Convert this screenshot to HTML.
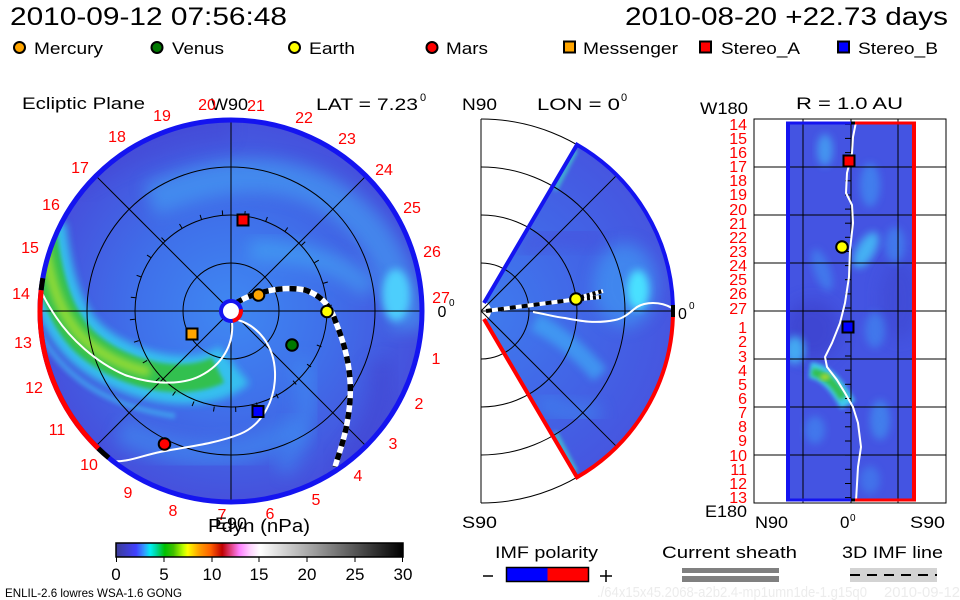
<!DOCTYPE html>
<html><head><meta charset="utf-8"><style>
html,body{margin:0;padding:0;background:#fff;width:960px;height:600px;overflow:hidden}
svg{display:block}
text{font-family:"Liberation Sans",sans-serif}
</style></head><body>
<svg width="960" height="600" viewBox="0 0 960 600" xmlns="http://www.w3.org/2000/svg">
<defs>
 <filter id="b2" x="-30%" y="-30%" width="160%" height="160%"><feGaussianBlur stdDeviation="2"/></filter>
 <filter id="b4" x="-30%" y="-30%" width="160%" height="160%"><feGaussianBlur stdDeviation="4"/></filter>
 <filter id="b8" x="-40%" y="-40%" width="180%" height="180%"><feGaussianBlur stdDeviation="8"/></filter>
 <clipPath id="disk"><circle cx="231" cy="311" r="190"/></clipPath>
 <clipPath id="wedge"><path d="M486 302.3 L577 144.7 A192 192 0 0 1 577 477.3 L486 319.7 A10 10 0 0 0 486 302.3 Z"/></clipPath>
 <clipPath id="rrect"><rect x="786" y="122" width="128" height="379"/></clipPath>
 <radialGradient id="rg" cx="231" cy="311" r="192" gradientUnits="userSpaceOnUse">
   <stop offset="0" stop-color="#3f88f2"/>
   <stop offset="0.5" stop-color="#3f70ea"/>
   <stop offset="1" stop-color="#4650dc"/>
 </radialGradient>
 <radialGradient id="rg2" cx="481" cy="311" r="192" gradientUnits="userSpaceOnUse">
   <stop offset="0" stop-color="#3f7cee"/>
   <stop offset="0.6" stop-color="#4264e6"/>
   <stop offset="1" stop-color="#4656e0"/>
 </radialGradient>
 <linearGradient id="cb" x1="0" x2="1" y1="0" y2="0">
   <stop offset="0" stop-color="#3c3c96"/>
   <stop offset="0.04" stop-color="#3f3fd0"/>
   <stop offset="0.07" stop-color="#4040ff"/>
   <stop offset="0.10" stop-color="#30a0ff"/>
   <stop offset="0.12" stop-color="#00f0f0"/>
   <stop offset="0.14" stop-color="#00d8a0"/>
   <stop offset="0.17" stop-color="#00c000"/>
   <stop offset="0.20" stop-color="#40c000"/>
   <stop offset="0.235" stop-color="#c0ff00"/>
   <stop offset="0.25" stop-color="#ffff00"/>
   <stop offset="0.29" stop-color="#ffa000"/>
   <stop offset="0.33" stop-color="#ff6000"/>
   <stop offset="0.37" stop-color="#c00000"/>
   <stop offset="0.40" stop-color="#e04080"/>
   <stop offset="0.43" stop-color="#ff80ff"/>
   <stop offset="0.47" stop-color="#ffd8ff"/>
   <stop offset="0.50" stop-color="#ffffff"/>
   <stop offset="1" stop-color="#000000"/>
 </linearGradient>
</defs>

<!-- Header -->
<text x="10" y="25" font-size="25" textLength="277" lengthAdjust="spacingAndGlyphs">2010-09-12 07:56:48</text>
<text x="625" y="25" font-size="25" textLength="323" lengthAdjust="spacingAndGlyphs">2010-08-20 +22.73 days</text>

<!-- Legend -->
<g stroke="#000" stroke-width="2">
 <circle cx="19.5" cy="47.5" r="5.5" fill="#ffa500"/>
 <circle cx="157" cy="47.5" r="5.5" fill="#007800"/>
 <circle cx="294.5" cy="47.5" r="5.5" fill="#ffff00"/>
 <circle cx="432" cy="47.5" r="5.5" fill="#ff0000"/>
 <rect x="564" y="41.5" width="11" height="11" fill="#ffa500"/>
 <rect x="700" y="41.5" width="11" height="11" fill="#ff0000"/>
 <rect x="838" y="41.5" width="11" height="11" fill="#0000ff"/>
</g>
<g font-size="17">
 <text x="34" y="54" textLength="69" lengthAdjust="spacingAndGlyphs">Mercury</text>
 <text x="172" y="54" textLength="52" lengthAdjust="spacingAndGlyphs">Venus</text>
 <text x="309" y="54" textLength="46" lengthAdjust="spacingAndGlyphs">Earth</text>
 <text x="446" y="54" textLength="42" lengthAdjust="spacingAndGlyphs">Mars</text>
 <text x="583" y="54" textLength="95" lengthAdjust="spacingAndGlyphs">Messenger</text>
 <text x="721" y="54" textLength="79" lengthAdjust="spacingAndGlyphs">Stereo_A</text>
 <text x="858" y="54" textLength="80" lengthAdjust="spacingAndGlyphs">Stereo_B</text>
</g>

<!-- Titles -->
<g font-size="17">
 <text x="22" y="109" textLength="123" lengthAdjust="spacingAndGlyphs">Ecliptic Plane</text>
 <text x="211" y="110" textLength="37" lengthAdjust="spacingAndGlyphs">W90</text>
 <text x="316" y="110" textLength="102" lengthAdjust="spacingAndGlyphs">LAT = 7.23</text>
 <text x="420" y="101" font-size="11">0</text>
 <text x="462" y="110" textLength="35" lengthAdjust="spacingAndGlyphs">N90</text>
 <text x="537" y="110" textLength="83" lengthAdjust="spacingAndGlyphs">LON = 0</text>
 <text x="621" y="101" font-size="11">0</text>
 <text x="700" y="114" textLength="48" lengthAdjust="spacingAndGlyphs">W180</text>
 <text x="796" y="109" textLength="107" lengthAdjust="spacingAndGlyphs">R = 1.0 AU</text>
</g>

<!-- ================= LEFT DISK ================= -->
<circle cx="231" cy="311" r="190" fill="url(#rg)"/>
<g clip-path="url(#disk)">
  <!-- lighter spiral arms -->
  <path d="M150 200 Q 290 140 370 230 Q 405 275 408 330" fill="none" stroke="#44aaf6" stroke-width="34" opacity="0.55" filter="url(#b8)"/>
  <path d="M250 250 Q 330 250 370 290" fill="none" stroke="#45b5f7" stroke-width="20" opacity="0.5" filter="url(#b8)"/>
  <ellipse cx="396" cy="295" rx="14" ry="26" fill="#50dcff" opacity="0.85" filter="url(#b4)"/>
  <path d="M120 430 Q 220 480 300 425" fill="none" stroke="#3f8cf0" stroke-width="26" opacity="0.6" filter="url(#b8)"/>
  <path d="M300 360 Q 320 420 280 470" fill="none" stroke="#3f90f2" stroke-width="22" opacity="0.5" filter="url(#b8)"/>
  <path d="M380 360 Q 390 420 340 470" fill="none" stroke="#4246d2" stroke-width="24" opacity="0.6" filter="url(#b8)"/>
  <path d="M70 180 Q 150 130 230 125" fill="none" stroke="#4448d4" stroke-width="30" opacity="0.5" filter="url(#b8)"/>
  <!-- green band -->
  <path d="M42 225 C48 280, 60 318, 85 342 C110 365, 150 380, 185 380 C205 380, 222 375, 234 365" fill="none" stroke="#34c8f0" stroke-width="48" opacity="0.9" filter="url(#b4)"/>
  <path d="M42 225 C48 280, 60 318, 85 342 C110 365, 150 380, 185 378 C200 377, 210 374, 218 370" fill="none" stroke="#30c050" stroke-width="28" filter="url(#b2)"/>
  <path d="M44 240 C50 285, 62 318, 85 340 C105 358, 130 368, 150 372" fill="none" stroke="#a8e030" stroke-width="10" opacity="0.85" filter="url(#b4)"/>
  <path d="M38 330 C60 372, 100 405, 175 416" fill="none" stroke="#40b8f2" stroke-width="6" opacity="0.6" filter="url(#b2)"/>
</g>
<!-- grid -->
<g fill="none" stroke="#000" stroke-width="1">
  <circle cx="231" cy="311" r="48"/>
  <circle cx="231" cy="311" r="96"/>
  <circle cx="231" cy="311" r="144"/>
  <line x1="231" y1="119" x2="231" y2="503"/>
  <line x1="39" y1="311" x2="423" y2="311"/>
  <line x1="95.2" y1="175.2" x2="366.8" y2="446.8"/>
  <line x1="366.8" y1="175.2" x2="95.2" y2="446.8"/>
</g>
<!-- ticks on 1 AU circle -->
<g stroke="#000" stroke-width="1">
  <line x1="326.8" y1="305.5" x2="331.8" y2="305.2"/>
  <line x1="323.0" y1="283.4" x2="327.8" y2="282.0"/>
  <line x1="314.5" y1="262.7" x2="318.8" y2="260.2"/>
  <line x1="301.6" y1="245.2" x2="305.2" y2="241.8"/>
  <line x1="284.9" y1="231.6" x2="287.7" y2="227.5"/>
  <line x1="265.6" y1="221.6" x2="267.4" y2="217.0"/>
  <line x1="244.6" y1="216.0" x2="245.2" y2="211.1"/>
  <line x1="222.7" y1="215.4" x2="222.3" y2="210.4"/>
  <line x1="201.6" y1="219.6" x2="200.1" y2="214.9"/>
  <line x1="182.1" y1="228.3" x2="179.5" y2="224.0"/>
  <line x1="165.0" y1="241.3" x2="161.5" y2="237.6"/>
  <line x1="151.2" y1="257.8" x2="147.0" y2="255.1"/>
  <line x1="141.3" y1="277.0" x2="136.6" y2="275.3"/>
  <line x1="135.7" y1="297.8" x2="130.8" y2="297.2"/>
  <line x1="134.9" y1="319.3" x2="129.9" y2="319.7"/>
  <line x1="138.8" y1="340.6" x2="134.0" y2="342.2"/>
  <line x1="147.1" y1="360.4" x2="142.8" y2="363.0"/>
  <line x1="159.6" y1="377.6" x2="156.0" y2="381.0"/>
  <line x1="175.5" y1="391.4" x2="172.6" y2="395.5"/>
  <line x1="194.0" y1="401.5" x2="192.1" y2="406.1"/>
  <line x1="214.3" y1="406.5" x2="213.5" y2="411.5"/>
  <line x1="235.6" y1="407.0" x2="235.8" y2="412.0"/>
  <line x1="256.4" y1="402.6" x2="257.7" y2="407.4"/>
  <line x1="275.9" y1="393.8" x2="278.3" y2="398.2"/>
  <line x1="293.0" y1="380.7" x2="296.3" y2="384.4"/>
  <line x1="307.0" y1="364.2" x2="311.1" y2="366.9"/>
  <line x1="316.8" y1="345.0" x2="321.4" y2="346.8"/>
</g>
<!-- white current sheet lines -->
<g fill="none" stroke="#fff" stroke-width="2">
  <path d="M238 320 C258 326, 274 345, 275 372 C276 400, 262 425, 240 434 C215 444, 185 447, 160 452 C140 456, 128 463, 108 461"/>
  <path d="M232 322 C234 345, 222 365, 200 376 C180 386, 150 384, 125 375 C95 362, 70 338, 56 317 C48 305, 42 295, 39 285"/>
</g>
<!-- IMF dashed line -->
<g fill="none" stroke-width="5.5">
  <path d="M236 303 C250 294, 280 285, 305 290 C320 295, 330 305, 335 320 C345 345, 352 370, 350 400 C348 430, 340 450, 335 467" stroke="#fff"/>
  <path d="M236 303 C250 294, 280 285, 305 290 C320 295, 330 305, 335 320 C345 345, 352 370, 350 400 C348 430, 340 450, 335 467" stroke="#000" stroke-dasharray="7 7"/>
</g>
<!-- outer ring -->
<circle cx="231" cy="311" r="191" fill="none" stroke="#1414f0" stroke-width="5"/>
<path d="M41.15 290.04 A191 191 0 0 0 98.32 448.39" fill="none" stroke="#ff0000" stroke-width="5"/>
<path d="M42.85 278.16 A191 191 0 0 0 41.15 290.04" fill="none" stroke="#000" stroke-width="5"/>
<path d="M98.32 448.39 A191 191 0 0 0 108.74 457.74" fill="none" stroke="#000" stroke-width="5"/>
<!-- sun -->
<circle cx="231" cy="311" r="10" fill="#fff" stroke="#1414f0" stroke-width="4"/>
<path d="M240.8 309.3 A10 10 0 0 1 232.7 320.8" fill="none" stroke="#ff0000" stroke-width="4"/>
<!-- planets & spacecraft -->
<g stroke="#000" stroke-width="2">
  <circle cx="258.5" cy="295" r="5.8" fill="#ffa500"/>
  <circle cx="292" cy="345" r="5.8" fill="#007800"/>
  <circle cx="327" cy="311.5" r="5.8" fill="#ffff00"/>
  <circle cx="164.5" cy="444" r="5.8" fill="#ff0000"/>
  <rect x="186.5" y="328.5" width="11" height="11" fill="#ffa500"/>
  <rect x="237.5" y="214.5" width="11" height="11" fill="#ff0000"/>
  <rect x="252.5" y="406" width="11" height="11" fill="#0000ff"/>
</g>
<!-- red day labels -->
<g fill="#ff0000" font-size="16" text-anchor="middle">
  <text x="207" y="110">20</text>
  <text x="256" y="111">21</text>
  <text x="304" y="123">22</text>
  <text x="347" y="144">23</text>
  <text x="384" y="175">24</text>
  <text x="412" y="213">25</text>
  <text x="432" y="257">26</text>
  <text x="441" y="303">27</text>
  <text x="436" y="364">1</text>
  <text x="419" y="409">2</text>
  <text x="393" y="449">3</text>
  <text x="358" y="481">4</text>
  <text x="316" y="505">5</text>
  <text x="270" y="519">6</text>
  <text x="222" y="520">7</text>
  <text x="173" y="516">8</text>
  <text x="128" y="498">9</text>
  <text x="89" y="470">10</text>
  <text x="57" y="435">11</text>
  <text x="34" y="393">12</text>
  <text x="23" y="348">13</text>
  <text x="21" y="299">14</text>
  <text x="30" y="253">15</text>
  <text x="51" y="210">16</text>
  <text x="80" y="173">17</text>
  <text x="117" y="142">18</text>
  <text x="162" y="121">19</text>
</g>
<text x="442" y="317" font-size="16" text-anchor="middle">0</text>
<text x="449" y="306" font-size="10">0</text>
<text x="215" y="529" font-size="17" textLength="32" lengthAdjust="spacingAndGlyphs">E90</text>
<text x="208" y="532" font-size="18" textLength="102" lengthAdjust="spacingAndGlyphs">Pdyn (nPa)</text>

<!-- ================= MIDDLE ================= -->
<path d="M486 302.3 L577 144.7 A192 192 0 0 1 577 477.3 L486 319.7 A10 10 0 0 0 486 302.3 Z" fill="url(#rg2)"/>
<g clip-path="url(#wedge)">
  <ellipse cx="625" cy="285" rx="32" ry="42" fill="#3fa0f5" opacity="0.6" filter="url(#b8)"/>
  <ellipse cx="638" cy="290" rx="11" ry="20" fill="#48e0ff" filter="url(#b4)"/>
  <path d="M535 322 Q 570 340 600 375" fill="none" stroke="#3fa8f5" stroke-width="18" opacity="0.7" filter="url(#b4)"/>
  <path d="M540 400 Q 570 420 600 410" fill="none" stroke="#3f8cf0" stroke-width="20" opacity="0.5" filter="url(#b8)"/>
  <path d="M520 250 Q 560 230 600 240" fill="none" stroke="#4a50dc" stroke-width="22" opacity="0.5" filter="url(#b8)"/>
  <line x1="555" y1="190" x2="576" y2="150" stroke="#40e0c8" stroke-width="3" filter="url(#b2)"/>
  <line x1="555" y1="432" x2="576" y2="472" stroke="#40e0c8" stroke-width="3" filter="url(#b2)"/>
</g>
<g fill="none" stroke="#000" stroke-width="1">
  <path d="M481 263 A48 48 0 0 1 481 359"/>
  <path d="M481 215 A96 96 0 0 1 481 407"/>
  <path d="M481 167 A144 144 0 0 1 481 455"/>
  <path d="M481 119 A192 192 0 0 1 481 503"/>
  <line x1="481" y1="119" x2="481" y2="503"/>
  <line x1="481" y1="311" x2="673" y2="311"/>
  <line x1="481" y1="311" x2="616.8" y2="175.2"/>
  <line x1="481" y1="311" x2="616.8" y2="446.8"/>
</g>
<path d="M533 312 C545 314, 555 317, 565 318 C580 321, 595 324, 615 320 C625 318, 630 312, 637 307 C645 302, 660 301, 672 308" fill="none" stroke="#fff" stroke-width="2"/>
<g fill="none" stroke-width="4">
  <path d="M486 311 L571 300" stroke="#fff"/>
  <path d="M486 311 L571 300" stroke="#000" stroke-dasharray="6 6"/>
  <path d="M581 297 L603 291 M581 299 L601 297" stroke="#fff"/>
  <path d="M581 297 L603 291 M581 299 L601 297" stroke="#000" stroke-dasharray="3 3"/>
</g>
<path d="M484 303 L577 144.7 A192 192 0 0 1 672.9 305" fill="none" stroke="#1414f0" stroke-width="4"/>
<path d="M484 319 L577 477.3 A192 192 0 0 0 672.9 317" fill="none" stroke="#ff0000" stroke-width="4"/>
<line x1="673" y1="305" x2="673" y2="317" stroke="#000" stroke-width="4"/>
<circle cx="576" cy="299" r="5.8" fill="#ffff00" stroke="#000" stroke-width="2"/>
<text x="678" y="319" font-size="16">0</text>
<text x="689" y="309" font-size="10">0</text>
<text x="462" y="528" font-size="17" textLength="35" lengthAdjust="spacingAndGlyphs">S90</text>

<!-- ================= RIGHT ================= -->
<rect x="786" y="122" width="128" height="379" fill="#4454e2"/>
<g clip-path="url(#rrect)">
  <ellipse cx="812" cy="330" rx="28" ry="30" fill="#3a3ec8" opacity="0.6" filter="url(#b8)"/>
  <ellipse cx="900" cy="300" rx="20" ry="40" fill="#3e44cc" opacity="0.5" filter="url(#b8)"/>
  <ellipse cx="825" cy="150" rx="8" ry="16" fill="#45b0f5" opacity="0.7" filter="url(#b4)"/>
  <ellipse cx="870" cy="185" rx="10" ry="22" fill="#3f8ff2" opacity="0.7" filter="url(#b4)"/>
  <ellipse cx="866" cy="250" rx="9" ry="20" fill="#45c8f8" opacity="0.8" filter="url(#b4)" transform="rotate(30 866 250)"/>
  <ellipse cx="895" cy="245" rx="10" ry="18" fill="#3f90f2" opacity="0.6" filter="url(#b4)"/>
  <ellipse cx="822" cy="270" rx="8" ry="22" fill="#3f8ff2" opacity="0.6" filter="url(#b4)" transform="rotate(-20 822 270)"/>
  <ellipse cx="795" cy="350" rx="10" ry="14" fill="#45c0f8" opacity="0.8" filter="url(#b4)"/>
  <ellipse cx="875" cy="330" rx="10" ry="18" fill="#3f8ff2" opacity="0.6" filter="url(#b4)"/>
  <ellipse cx="880" cy="420" rx="10" ry="20" fill="#3f9af2" opacity="0.6" filter="url(#b4)"/>
  <ellipse cx="815" cy="430" rx="10" ry="14" fill="#3f8ff2" opacity="0.6" filter="url(#b4)"/>
  <ellipse cx="870" cy="480" rx="10" ry="14" fill="#3f8ff2" opacity="0.5" filter="url(#b4)"/>
  <path d="M810 370 Q 830 372 848 405" fill="none" stroke="#40d8f0" stroke-width="16" opacity="0.9" filter="url(#b2)"/>
  <path d="M812 372 Q 830 375 843 398" fill="none" stroke="#30c050" stroke-width="8" filter="url(#b2)"/>
  <ellipse cx="825" cy="377" rx="5" ry="3" fill="#a8d830" filter="url(#b2)"/>
</g>
<g fill="none" stroke="#000" stroke-width="1">
  <rect x="754" y="119" width="192" height="384"/>
  <line x1="803" y1="119" x2="803" y2="503"/>
  <line x1="851" y1="119" x2="851" y2="503"/>
  <line x1="898" y1="119" x2="898" y2="503"/>
  <line x1="754" y1="167" x2="946" y2="167"/>
  <line x1="754" y1="215" x2="946" y2="215"/>
  <line x1="754" y1="263" x2="946" y2="263"/>
  <line x1="754" y1="311" x2="946" y2="311"/>
  <line x1="754" y1="359" x2="946" y2="359"/>
  <line x1="754" y1="407" x2="946" y2="407"/>
  <line x1="754" y1="455" x2="946" y2="455"/>
</g>
<g stroke="#000" stroke-width="1">
  <line x1="845" y1="124.3" x2="851" y2="124.3"/><line x1="845" y1="138.4" x2="851" y2="138.4"/>
  <line x1="845" y1="152.6" x2="851" y2="152.6"/><line x1="845" y1="166.7" x2="851" y2="166.7"/>
  <line x1="845" y1="180.8" x2="851" y2="180.8"/><line x1="845" y1="195" x2="851" y2="195"/>
  <line x1="845" y1="209.1" x2="851" y2="209.1"/><line x1="845" y1="223.2" x2="851" y2="223.2"/>
  <line x1="845" y1="237.3" x2="851" y2="237.3"/><line x1="845" y1="251.5" x2="851" y2="251.5"/>
  <line x1="845" y1="265.6" x2="851" y2="265.6"/><line x1="845" y1="279.7" x2="851" y2="279.7"/>
  <line x1="845" y1="293.9" x2="851" y2="293.9"/><line x1="845" y1="308" x2="851" y2="308"/>
  <line x1="845" y1="327.7" x2="851" y2="327.7"/><line x1="845" y1="341.9" x2="851" y2="341.9"/>
  <line x1="845" y1="356" x2="851" y2="356"/><line x1="845" y1="370.2" x2="851" y2="370.2"/>
  <line x1="845" y1="384.3" x2="851" y2="384.3"/><line x1="845" y1="398.5" x2="851" y2="398.5"/>
  <line x1="845" y1="412.7" x2="851" y2="412.7"/><line x1="845" y1="426.8" x2="851" y2="426.8"/>
  <line x1="845" y1="441" x2="851" y2="441"/><line x1="845" y1="455.1" x2="851" y2="455.1"/>
  <line x1="845" y1="469.3" x2="851" y2="469.3"/><line x1="845" y1="483.5" x2="851" y2="483.5"/>
  <line x1="845" y1="497.6" x2="851" y2="497.6"/>
</g>
<path d="M856 122 L853 137 L852 153 L847 173 L846 193 L852 205 L853 223 L850 250 L849 277 L845 303 L840 323 L832 343 L825 357 L827 367 L837 380 L845 393 L853 407 L858 423 L861 447 L858 467 L856 501" fill="none" stroke="#fff" stroke-width="2"/>
<!-- borders -->
<line x1="788" y1="122" x2="788" y2="501" stroke="#1414f0" stroke-width="4"/>
<line x1="914" y1="122" x2="914" y2="501" stroke="#ff0000" stroke-width="4"/>
<line x1="786" y1="123" x2="851" y2="123" stroke="#1414f0" stroke-width="3"/>
<line x1="855" y1="123" x2="916" y2="123" stroke="#ff0000" stroke-width="3"/>
<line x1="851" y1="123" x2="855" y2="123" stroke="#000" stroke-width="3"/>
<line x1="786" y1="500" x2="851" y2="500" stroke="#1414f0" stroke-width="3"/>
<line x1="855" y1="500" x2="916" y2="500" stroke="#ff0000" stroke-width="3"/>
<line x1="851" y1="500" x2="855" y2="500" stroke="#000" stroke-width="3"/>
<g stroke="#000" stroke-width="2">
  <rect x="843.5" y="155.5" width="11" height="11" fill="#ff0000"/>
  <circle cx="842" cy="247" r="5.8" fill="#ffff00"/>
  <rect x="842.5" y="321.5" width="11" height="11" fill="#0000ff"/>
</g>
<g fill="#ff0000" font-size="16" text-anchor="end">
  <text x="747" y="130">14</text><text x="747" y="144">15</text><text x="747" y="158">16</text>
  <text x="747" y="172">17</text><text x="747" y="186">18</text><text x="747" y="200">19</text>
  <text x="747" y="215">20</text><text x="747" y="229">21</text><text x="747" y="243">22</text>
  <text x="747" y="257">23</text><text x="747" y="271">24</text><text x="747" y="285">25</text>
  <text x="747" y="299">26</text><text x="747" y="314">27</text>
  <text x="747" y="333">1</text><text x="747" y="347">2</text><text x="747" y="362">3</text>
  <text x="747" y="376">4</text><text x="747" y="390">5</text><text x="747" y="404">6</text>
  <text x="747" y="418">7</text><text x="747" y="432">8</text><text x="747" y="446">9</text>
  <text x="747" y="461">10</text><text x="747" y="475">11</text><text x="747" y="489">12</text>
  <text x="747" y="503">13</text>
</g>
<g font-size="17">
  <text x="705" y="517" textLength="42" lengthAdjust="spacingAndGlyphs">E180</text>
  <text x="755" y="528" textLength="33" lengthAdjust="spacingAndGlyphs">N90</text>
  <text x="840" y="528">0</text>
  <text x="910" y="528" textLength="35" lengthAdjust="spacingAndGlyphs">S90</text>
</g>
<text x="850" y="521" font-size="10">0</text>

<!-- ================= COLORBAR ================= -->
<rect x="116" y="543" width="287" height="14" fill="url(#cb)" stroke="#000" stroke-width="1.5"/>
<g stroke="#000" stroke-width="1">
  <line x1="116.5" y1="557" x2="116.5" y2="562"/>
  <line x1="164" y1="557" x2="164" y2="562"/>
  <line x1="212" y1="557" x2="212" y2="562"/>
  <line x1="259" y1="557" x2="259" y2="562"/>
  <line x1="307" y1="557" x2="307" y2="562"/>
  <line x1="355" y1="557" x2="355" y2="562"/>
  <line x1="402.5" y1="557" x2="402.5" y2="562"/>
</g>
<g font-size="17" text-anchor="middle">
  <text x="116" y="580">0</text>
  <text x="164" y="580">5</text>
  <text x="212" y="580">10</text>
  <text x="259" y="580">15</text>
  <text x="307" y="580">20</text>
  <text x="355" y="580">25</text>
  <text x="403" y="580">30</text>
</g>
<text x="5" y="597" font-size="12" textLength="177" lengthAdjust="spacingAndGlyphs">ENLIL-2.6 lowres WSA-1.6 GONG</text>

<!-- bottom legends -->
<g font-size="17">
  <text x="495" y="558" textLength="103" lengthAdjust="spacingAndGlyphs">IMF polarity</text>
  <text x="662" y="558" textLength="135" lengthAdjust="spacingAndGlyphs">Current sheath</text>
  <text x="842" y="558" textLength="101" lengthAdjust="spacingAndGlyphs">3D IMF line</text>
</g>
<line x1="483" y1="576" x2="493" y2="576" stroke="#000" stroke-width="1.5"/>
<rect x="506.5" y="567.5" width="41" height="14" fill="#0000ff"/>
<rect x="547.5" y="567.5" width="41" height="14" fill="#ff0000"/>
<rect x="506.5" y="567.5" width="82" height="14" fill="none" stroke="#000" stroke-width="1.5"/>
<path d="M600 576 H612 M606 570 V582" stroke="#000" stroke-width="1.5"/>
<rect x="682" y="568" width="97" height="5" fill="#808080"/>
<rect x="682" y="576" width="97" height="6" fill="#808080"/>
<rect x="850" y="568" width="87" height="14" fill="#d3d3d3"/>
<line x1="850" y1="575" x2="937" y2="575" stroke="#000" stroke-width="2" stroke-dasharray="10 7"/>
<text x="597" y="597" font-size="15" fill="#ececec" textLength="270" lengthAdjust="spacingAndGlyphs">./64x15x45.2068-a2b2.4-mp1umn1de-1.g15q0</text>
<text x="884" y="597" font-size="15" fill="#ececec" textLength="76" lengthAdjust="spacingAndGlyphs">2010-09-12</text>
</svg>
</body></html>
